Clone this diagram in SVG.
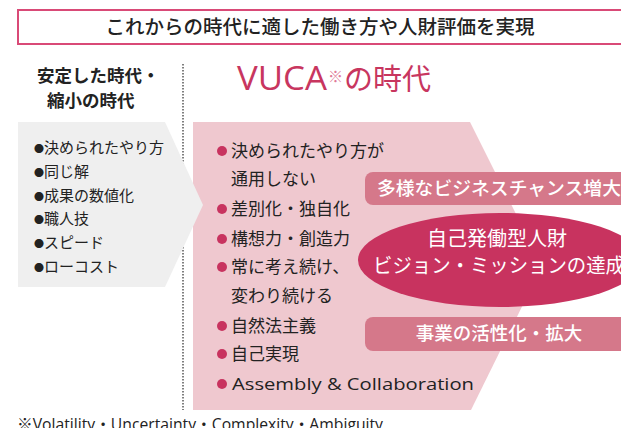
<svg xmlns="http://www.w3.org/2000/svg" width="621" height="428" viewBox="0 0 621 428">
<style>
text{font-family:"Noto Sans CJK JP","Noto Sans",sans-serif;fill:#222}
.h{font-size:17.5px;font-weight:bold}
.l{font-size:15px}
.p{font-size:17px}
.w{fill:#fff}
.lat{font-family:"Open Sans","Noto Sans CJK JP",sans-serif}
.pb{fill:#c8335f}
</style>
<rect width="621" height="428" fill="#fff"/>
<g id="title">
<rect x="18" y="10" width="610" height="34" fill="#fff" stroke="#d94a77" stroke-width="2"/>
<text x="320" y="34" text-anchor="middle" font-size="19.5" font-weight="500">これからの時代に適した働き方や人財評価を実現</text>
</g>
<g id="vuca-area">
<polygon points="193,122 470,122 542,266 471,410 193,410" fill="#efc8cf"/>
</g>
<g id="connectors">
<line x1="183" y1="64" x2="183" y2="410" stroke="#555" stroke-width="1.5" stroke-dasharray="1.5,1.5"/>
</g>
<g id="stable-era">
<text class="h" x="37" y="82">安定した時代・</text>
<text class="h" x="47" y="107">縮小の時代</text>
<polygon points="18,122 165,122 203,205 165,287 18,287" fill="#efefef"/>
<text class="l" x="34" y="153"><tspan font-size="10">●</tspan>決められたやり方</text>
<text class="l" x="34" y="177"><tspan font-size="10">●</tspan>同じ解</text>
<text class="l" x="34" y="201"><tspan font-size="10">●</tspan>成果の数値化</text>
<text class="l" x="34" y="224"><tspan font-size="10">●</tspan>職人技</text>
<text class="l" x="34" y="248"><tspan font-size="10">●</tspan>スピード</text>
<text class="l" x="34" y="272"><tspan font-size="10">●</tspan>ローコスト</text>
</g>
<g id="vuca-heading">
<text style="fill:#c8365f"><tspan class="lat" x="237" y="90" font-size="32" textLength="90" lengthAdjust="spacingAndGlyphs">VUCA</tspan><tspan x="328" y="82" font-size="15" style="fill:#e07a98">※</tspan><tspan x="344" y="90" font-size="29">の時代</tspan></text>
</g>
<g id="vuca-list">
<circle class="pb" cx="222" cy="151" r="5"/>
<text class="p" x="231" y="157">決められたやり方が</text>
<text class="p" x="231" y="185">通用しない</text>
<circle class="pb" cx="222" cy="209" r="5"/>
<text class="p" x="231" y="215">差別化・独自化</text>
<circle class="pb" cx="222" cy="239" r="5"/>
<text class="p" x="231" y="245">構想力・創造力</text>
<circle class="pb" cx="222" cy="267" r="5"/>
<text class="p" x="231" y="273">常に考え続け、</text>
<text class="p" x="231" y="302">変わり続ける</text>
<circle class="pb" cx="222" cy="326" r="5"/>
<text class="p" x="231" y="332">自然法主義</text>
<circle class="pb" cx="222" cy="354" r="5"/>
<text class="p" x="231" y="360">自己実現</text>
<circle class="pb" cx="222" cy="384" r="5"/>
<text class="p lat" x="232" y="390" textLength="242" lengthAdjust="spacingAndGlyphs">Assembly &amp; Collaboration</text>
</g>
<g id="business-chance">
<rect x="365" y="172" width="270" height="33" rx="8" fill="#d5788a"/>
<text class="w" x="377" y="194.5" font-size="18.5" font-weight="500" textLength="244" lengthAdjust="spacingAndGlyphs">多様なビジネスチャンス増大</text>
</g>
<g id="self-driven">
<ellipse cx="500" cy="260" rx="142" ry="47" fill="#c8335f"/>
<text class="w" x="497" y="246" font-size="20" text-anchor="middle">自己発働型人財</text>
<text class="w" x="373" y="273" font-size="20" textLength="252" lengthAdjust="spacingAndGlyphs">ビジョン・ミッションの達成</text>
</g>
<g id="business-growth">
<rect x="365" y="317" width="270" height="34" rx="8" fill="#d5788a"/>
<text class="w" x="499" y="340" font-size="18.5" font-weight="500" text-anchor="middle">事業の活性化・拡大</text>
</g>
<g id="footnote">
<text x="17" y="430" font-size="16" class="lat" textLength="366" lengthAdjust="spacingAndGlyphs">※Volatility・Uncertainty・Complexity・Ambiguity</text>
</g>
</svg>
